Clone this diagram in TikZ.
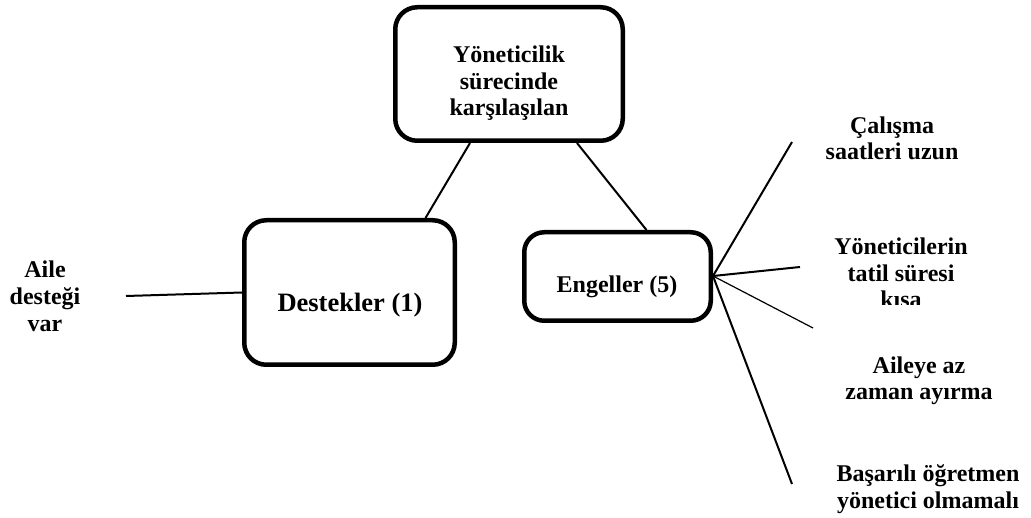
\documentclass[tikz,border=0pt]{standalone}
\usepackage{fontspec}
\setmainfont{Liberation Serif}
\usetikzlibrary{calc}
\begin{document}
\begin{tikzpicture}[x=1pt,y=-1pt,
  box/.style={draw,line width=4.5pt,rounded corners=22pt,inner sep=0pt},
  lbl/.style={font=\bfseries\fontsize{24}{26.5}\selectfont,align=center,inner sep=0pt,anchor=base},
  link/.style={line width=2pt},
  thinlink/.style={line width=1.2pt}]
\useasboundingbox (0,0) rectangle (1031,518);

% boxes
\node[box,minimum width=227.5pt,minimum height=133.5pt] (top) at (509,74) {};
\node[box,minimum width=210.5pt,minimum height=144.5pt] (dest) at (349.5,292.5) {};
\node[box,minimum width=186.5pt,minimum height=88.5pt,rounded corners=20pt] (eng) at (617.5,276.5) {};

% box texts (anchored at the baseline of their last line)
\node[lbl] (toptext) at (509,116) {Yöneticilik\\sürecinde\\karşılaşılan};
\node[lbl,font=\bfseries\fontsize{26.5}{29}\selectfont] (desttext) at (350,312) {Destekler (1)};
\node[lbl] (engtext) at (617,293) {Engeller (5)};

% outer labels
\node[lbl,font=\bfseries\fontsize{24}{27}\selectfont] (aile) at (45,332) {Aile\\desteği\\var};
\node[lbl] (calisma) at (892,160) {Çalışma\\saatleri uzun};
\begin{scope}
  \clip (800,200) rectangle (1031,305);
  \node[lbl] (tatil) at (901,308) {Yöneticilerin\\tatil süresi\\kısa};
\end{scope}
\node[lbl] (aileye) at (919,400) {Aileye az\\zaman ayırma};
\node[lbl] (basarili) at (928,508) {Başarılı öğretmen\\yönetici olmamalı};

% free line ends
\coordinate (eA) at (126,296);
\coordinate (e1) at (792,142);
\coordinate (e2) at (800,267);
\coordinate (e3) at (813,328);
\coordinate (e4) at (792,484);
\coordinate (fan) at (713,276);

% connectors
\draw[link] ($(top.south)+(-39,0)$) -- ($(dest.north)+(76,0)$);
\draw[link] ($(top.south)+(68,0)$) -- ($(eng.north)+(29,0)$);
\draw[link] (eA) -- (dest.west);
\draw[link] (fan) -- (e1);
\draw[link] (fan) -- (e2);
\draw[thinlink] (fan) -- (e3);
\draw[link] (fan) -- (e4);
\end{tikzpicture}
\end{document}
